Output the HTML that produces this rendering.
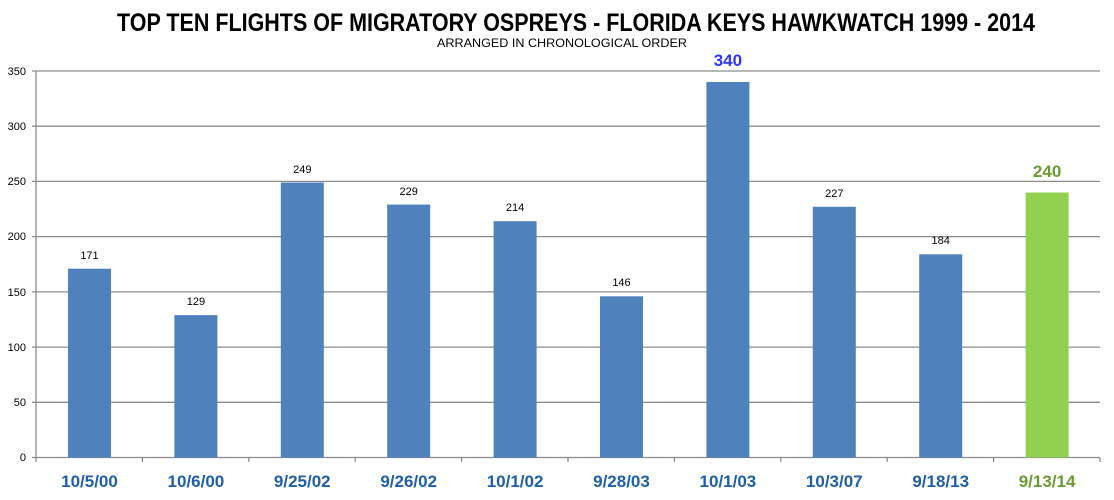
<!DOCTYPE html>
<html><head><style>body{margin:0;background:#fff}svg{display:block}</style></head><body>
<svg width="1114" height="500" xmlns="http://www.w3.org/2000/svg" font-family="Liberation Sans, sans-serif">
<rect width="1114" height="500" fill="#fff"/>
<text x="576" y="31" text-anchor="middle" font-size="25" font-weight="bold" fill="#000" textLength="918" lengthAdjust="spacingAndGlyphs">TOP TEN FLIGHTS OF MIGRATORY OSPREYS - FLORIDA KEYS HAWKWATCH 1999 - 2014</text>
<text x="562" y="47" text-anchor="middle" font-size="12" fill="#000" textLength="250" lengthAdjust="spacingAndGlyphs">ARRANGED IN CHRONOLOGICAL ORDER</text>
<g stroke="#8c8c8c" stroke-width="1.3">
<line x1="32" y1="71" x2="1100" y2="71"/>
<line x1="32" y1="126.2" x2="1100" y2="126.2"/>
<line x1="32" y1="181.4" x2="1100" y2="181.4"/>
<line x1="32" y1="236.6" x2="1100" y2="236.6"/>
<line x1="32" y1="291.9" x2="1100" y2="291.9"/>
<line x1="32" y1="347.1" x2="1100" y2="347.1"/>
<line x1="32" y1="402.3" x2="1100" y2="402.3"/>
<line x1="32" y1="457.5" x2="1100" y2="457.5"/>
<line x1="36" y1="71" x2="36" y2="462"/>
<line x1="142.4" y1="457.5" x2="142.4" y2="462"/><line x1="248.8" y1="457.5" x2="248.8" y2="462"/><line x1="355.2" y1="457.5" x2="355.2" y2="462"/><line x1="461.6" y1="457.5" x2="461.6" y2="462"/><line x1="568" y1="457.5" x2="568" y2="462"/><line x1="674.4" y1="457.5" x2="674.4" y2="462"/><line x1="780.8" y1="457.5" x2="780.8" y2="462"/><line x1="887.2" y1="457.5" x2="887.2" y2="462"/><line x1="993.6" y1="457.5" x2="993.6" y2="462"/><line x1="1100" y1="457.5" x2="1100" y2="462"/>
</g>
<g font-size="11" fill="#000" text-anchor="end">
<text x="26" y="75">350</text><text x="26" y="130">300</text><text x="26" y="185">250</text><text x="26" y="240">200</text><text x="26" y="296">150</text><text x="26" y="351">100</text><text x="26" y="406">50</text><text x="26" y="461">0</text>
</g>
<g fill="#4f81bd">
<rect x="68" y="268.7" width="43" height="188.8"/>
<rect x="174.4" y="315.1" width="43" height="142.4"/>
<rect x="280.8" y="182.5" width="43" height="275"/>
<rect x="387.2" y="204.6" width="43" height="252.9"/>
<rect x="493.6" y="221.2" width="43" height="236.3"/>
<rect x="600" y="296.3" width="43" height="161.2"/>
<rect x="706.4" y="82" width="43" height="375.5"/>
<rect x="812.8" y="206.8" width="43" height="250.7"/>
<rect x="919.2" y="254.3" width="43" height="203.2"/>
</g>
<rect x="1025.6" y="192.5" width="43" height="265" fill="#92d050"/>
<g font-size="11" fill="#000" text-anchor="middle">
<text x="89.5" y="259">171</text><text x="195.9" y="305">129</text><text x="302.3" y="173">249</text><text x="408.7" y="195">229</text><text x="515.1" y="211">214</text><text x="621.5" y="286">146</text><text x="834.3" y="197">227</text><text x="940.7" y="244">184</text>
</g>
<text x="727.9" y="66" text-anchor="middle" font-size="17" font-weight="bold" fill="#3333ff">340</text>
<text x="1047.1" y="177" text-anchor="middle" font-size="17" font-weight="bold" fill="#6a9a32">240</text>
<g font-size="17" font-weight="bold" fill="#1f5fa8" text-anchor="middle">
<text x="89.5" y="487">10/5/00</text><text x="195.9" y="487">10/6/00</text><text x="302.3" y="487">9/25/02</text><text x="408.7" y="487">9/26/02</text><text x="515.1" y="487">10/1/02</text><text x="621.5" y="487">9/28/03</text><text x="727.9" y="487">10/1/03</text><text x="834.3" y="487">10/3/07</text><text x="940.7" y="487">9/18/13</text>
<text x="1047.1" y="487" fill="#6a9a32">9/13/14</text>
</g>
</svg>
</body></html>
